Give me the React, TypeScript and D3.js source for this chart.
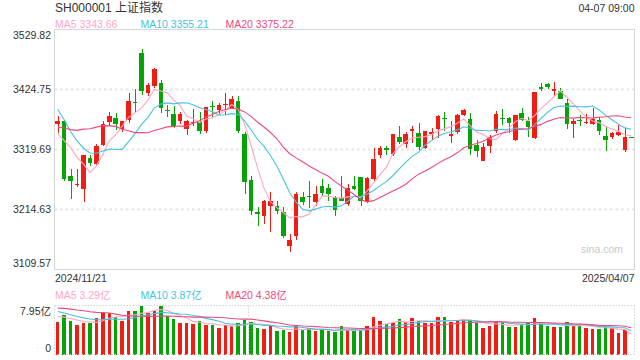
import React from 'react';
import * as d3 from 'd3';

const titleText = 'SH000001 上证指数';
const timeText = '04-07 09:00';
const startDate = '2024/11/21';
const endDate = '2025/04/07';
const watermark = 'sina.com';

const priceTicks = [3529.82, 3424.75, 3319.69, 3214.63, 3109.57];
const volMax = 7.95;
const volTickLabels = ['7.95亿', '0'];
const maLegend = ['MA5 3343.66', 'MA10 3355.21', 'MA20 3375.22'];
const volLegend = ['MA5 3.29亿', 'MA10 3.87亿', 'MA20 4.38亿'];
const maPeriods = [5, 10, 20];
const maColors = ['#ffa6c4', '#45c3de', '#ee4a7e'];

// 19 closes before the first shown day (needed for the moving averages)
const priorCloses = [3299.70, 3322.20, 3286.41, 3266.24, 3279.82, 3272.01, 3310.21, 3386.99, 3383.81, 3470.66,
  3452.30, 3470.07, 3421.97, 3439.28, 3379.84, 3330.73, 3323.85, 3346.01, 3367.99];
const priorVolumes = [7.2, 7.9, 7.6, 7.4, 8.3, 7.8, 7.1, 8.6, 9.4, 9.3, 8.8, 8.4, 7.6, 7.2, 6.9, 7.0, 6.5, 5.9, 6.4];

const opens = [3365, 3370, 3274, 3258.5, 3251, 3305, 3295, 3328, 3367, 3375,
  3355, 3371, 3403.5, 3488, 3419, 3431, 3437, 3388, 3381, 3370,
  3356, 3366, 3368, 3352, 3395, 3389, 3398, 3393, 3404, 3347,
  3267, 3210, 3204, 3220, 3220, 3211, 3150, 3168, 3236, 3239,
  3228, 3255, 3252, 3236, 3234, 3224, 3256, 3271, 3229, 3268,
  3310, 3322, 3311, 3342, 3330, 3352, 3349, 3322, 3347, 3356,
  3375, 3344, 3351, 3380, 3373, 3328, 3300, 3325, 3352, 3374,
  3374, 3336, 3384, 3370, 3340, 3430, 3434, 3423, 3423, 3401,
  3365, 3371, 3366, 3365, 3372, 3344, 3341, 3345, 3319, 3342.01];
const highs = [3379, 3372, 3286, 3286, 3310, 3310, 3330, 3369, 3386, 3383,
  3369, 3418, 3426, 3495, 3437, 3463, 3441, 3398, 3395, 3385,
  3372, 3391, 3385, 3394, 3405, 3401, 3418, 3414, 3413, 3351,
  3274, 3219, 3231, 3246, 3229, 3219, 3172, 3245, 3245, 3265,
  3256, 3268, 3259, 3238, 3274, 3260, 3274, 3271, 3272, 3322,
  3325, 3325, 3347, 3360, 3350, 3360, 3366, 3352, 3358, 3380.4,
  3385, 3369, 3381, 3390, 3383, 3337, 3331, 3345, 3387, 3391,
  3376, 3380, 3392, 3377, 3421, 3436, 3437, 3437.5, 3427, 3408,
  3373, 3380, 3382, 3393, 3376, 3360, 3350, 3362, 3357, 3342.01];
const lows = [3349, 3265, 3233, 3254, 3227, 3291, 3293, 3325, 3360, 3353,
  3350, 3366, 3385, 3416, 3413, 3428, 3383, 3377, 3358, 3365,
  3345, 3361, 3346, 3349, 3377, 3380, 3380, 3390, 3349, 3242,
  3205, 3185, 3190, 3176, 3206, 3165, 3141, 3161, 3223, 3217,
  3220, 3238, 3229, 3203, 3229, 3221, 3249, 3220, 3226, 3264,
  3305, 3310, 3308, 3329, 3322, 3331, 3319, 3320, 3337, 3340,
  3352, 3331, 3346, 3378, 3310, 3306, 3299, 3313, 3348, 3363,
  3348, 3334, 3369, 3341, 3338, 3423, 3425, 3414, 3408, 3356,
  3340, 3360, 3365, 3363, 3345, 3317, 3338, 3343, 3315, 3341.97];
const closes = [3370.40, 3267.19, 3263.76, 3259.76, 3309.78, 3295.70, 3326.46, 3363.98, 3378.81, 3364.65,
  3368.86, 3404.08, 3402.53, 3422.66, 3432.49, 3461.50, 3391.88, 3386.33, 3361.49, 3382.21,
  3370.03, 3368.07, 3351.26, 3393.53, 3393.35, 3398.08, 3400.14, 3407.33, 3351.76, 3262.56,
  3211.43, 3206.92, 3229.64, 3230.17, 3211.39, 3168.52, 3160.76, 3240.94, 3227.12, 3236.03,
  3241.82, 3244.38, 3242.62, 3213.62, 3230.16, 3252.63, 3250.60, 3229.49, 3270.66, 3303.67,
  3322.17, 3318.06, 3346.39, 3332.48, 3346.72, 3355.83, 3324.49, 3351.54, 3350.78, 3379.11,
  3373.03, 3346.04, 3380.21, 3388.06, 3320.90, 3316.93, 3324.21, 3341.96, 3381.10, 3372.55,
  3366.16, 3379.83, 3371.92, 3358.73, 3419.56, 3426.43, 3429.76, 3426.43, 3408.49, 3364.83,
  3370.03, 3369.98, 3368.70, 3373.75, 3351.31, 3335.75, 3348.44, 3350.13, 3342.01, 3341.97];
const volumes = [5.21, 6.34, 5.37, 4.73, 5.05, 5.05, 5.85, 6.71, 6.71, 6.07,
  5.37, 6.98, 6.98, 7.95, 6.77, 6.98, 7.79, 6.18, 5.69, 5.05,
  5.05, 4.89, 5.48, 4.73, 4.73, 4.24, 4.73, 4.62, 5.05, 5.58,
  5.21, 4.30, 4.13, 4.62, 3.76, 3.92, 3.65, 4.73, 3.97, 4.30,
  3.81, 3.92, 3.76, 3.65, 4.56, 3.92, 3.76, 3.92, 4.56, 6.07,
  5.37, 4.89, 5.05, 5.69, 5.26, 5.85, 5.48, 5.05, 5.05, 6.01,
  6.01, 5.21, 5.53, 5.69, 5.53, 5.05, 4.24, 4.56, 5.37, 5.21,
  4.40, 4.40, 4.89, 5.21, 5.85, 5.05, 4.56, 4.40, 4.40, 5.21,
  4.89, 4.56, 4.24, 4.08, 4.08, 4.73, 4.24, 3.44, 3.92, 0];

const RED = '#f21d12';
const GREEN = '#05a305';
const FONT = "Arial, 'Liberation Sans', 'Noto Sans CJK SC', sans-serif";

function movingAvg(prior: number[], data: number[], n: number): number[] {
  const all = prior.concat(data);
  return data.map((_, i) => {
    const end = prior.length + i;
    return d3.mean(all.slice(end - n + 1, end + 1)) as number;
  });
}

export default function App() {
  const W = 640, H = 360;
  const L = 54.5, R = 634.5, T = 29.5, B = 269.5;
  const VT = 305.5, VB = 354.5;
  const idx = d3.range(closes.length);
  const x = d3.scalePoint<number>().domain(idx).range([L, R]).padding(0.5);
  const step = x.step();
  const y = d3.scaleLinear().domain([priceTicks[4], priceTicks[0]]).range([B, T]);
  const yv = d3.scaleLinear().domain([0, volMax]).range([VB, VT]);
  const bw = step * 0.7;
  const vbw = step * 0.52;

  const priceMAs = maPeriods.map((n) => movingAvg(priorCloses, closes, n));
  const volMAs = maPeriods.map((n) => movingAvg(priorVolumes, volumes, n));
  const line = d3.line<number>().x((_, i) => x(i) as number).y((d) => y(d));
  const vline = d3.line<number>().x((_, i) => x(i) as number).y((d) => yv(d));

  const col = (i: number) => (closes[i] >= opens[i] ? RED : GREEN);
  const legendX = [55, 140.5, 225.5];

  return (
    <svg width={W} height={H} style={{ position: 'absolute', left: 0, top: 0, background: '#fff' }} fontFamily={FONT}>
      <rect x={0} y={0} width={W} height={H} fill="#fff" />
      <text x={55} y={12} fontSize={12} fill="#333">{titleText}</text>
      <text x={634.5} y={12} fontSize={10.5} fill="#333" textAnchor="end">{timeText}</text>
      {maLegend.map((t, k) => (
        <text key={'l' + k} x={legendX[k]} y={27.5} fontSize={10.5} fill={maColors[k]}>{t}</text>
      ))}

      {/* main panel */}
      {priceTicks.slice(1, 4).map((p, k) => (
        <line key={'g' + k} x1={L} x2={R} y1={y(p)} y2={y(p)} stroke="#e4e4e4" strokeWidth={2} strokeDasharray="2.5,3" />
      ))}
      <rect x={L} y={T} width={R - L} height={B - T} fill="none" stroke="#d6d6d6" strokeWidth={1} />
      {priceTicks.map((p, k) => {
        let yy = y(p) + 3.7;
        if (k === 0) yy = T + 9.8;
        if (k === priceTicks.length - 1) yy = B - 2.5;
        return (
          <text key={'t' + k} x={51} y={yy} fontSize={10.5} fill="#333" textAnchor="end">{p.toFixed(2)}</text>
        );
      })}
      <text x={55} y={282} fontSize={10.5} fill="#333">{startDate}</text>
      <text x={634.5} y={282} fontSize={10.5} fill="#333" textAnchor="end">{endDate}</text>
      <text x={623} y={253} fontSize={10.5} fill="#c8c8c8" textAnchor="end">{watermark}</text>

      {idx.map((i) => {
        const cx = x(i) as number;
        const c = col(i);
        const top = y(Math.max(opens[i], closes[i]));
        const bot = y(Math.min(opens[i], closes[i]));
        return (
          <g key={'c' + i} shapeRendering="crispEdges">
            <line x1={Math.round(cx) + 0.5} x2={Math.round(cx) + 0.5} y1={y(highs[i])} y2={y(lows[i])} stroke={c} strokeWidth={1} />
            <rect x={cx - bw / 2} y={top} width={bw} height={Math.max(1, bot - top)} fill={c} />
          </g>
        );
      })}
      {priceMAs.map((d, k) => (
        <path key={'m' + k} d={line(d) || ''} fill="none" stroke={maColors[k]} strokeWidth={1.1} />
      ))}

      {/* volume panel */}
      {volLegend.map((t, k) => (
        <text key={'vl' + k} x={legendX[k]} y={298.5} fontSize={10.5} fill={maColors[k]}>{t}</text>
      ))}
      <text x={51} y={314.5} fontSize={10.5} fill="#333" textAnchor="end">{volTickLabels[0]}</text>
      <text x={51} y={352} fontSize={10.5} fill="#333" textAnchor="end">{volTickLabels[1]}</text>
      {idx.filter((i) => volumes[i] > 0).map((i) => {
        const cx = x(i) as number;
        return (
          <rect key={'v' + i} x={cx - vbw / 2} y={yv(volumes[i])} width={vbw} height={VB - yv(volumes[i])} fill={col(i)} shapeRendering="crispEdges" />
        );
      })}
      {volMAs.map((d, k) => (
        <path key={'vm' + k} d={vline(d) || ''} fill="none" stroke={maColors[k]} strokeWidth={1.1} />
      ))}
      <g stroke="#d4d4d4" strokeWidth={1} strokeDasharray="1.5,1.5" fill="none">
        <line x1={L} x2={R} y1={VT} y2={VT} />
        <line x1={L} x2={R} y1={VB} y2={VB} />
        <line x1={R} x2={R} y1={VT} y2={VB} />
        <line x1={L} x2={L} y1={VT} y2={VB} />
        {[1, 2].map((k) => {
          const xx = Math.round(L + ((R - L) * k) / 3) + 0.5;
          return <line key={'vg' + k} x1={xx} x2={xx} y1={VT} y2={VB} />;
        })}
      </g>
    </svg>
  );
}
